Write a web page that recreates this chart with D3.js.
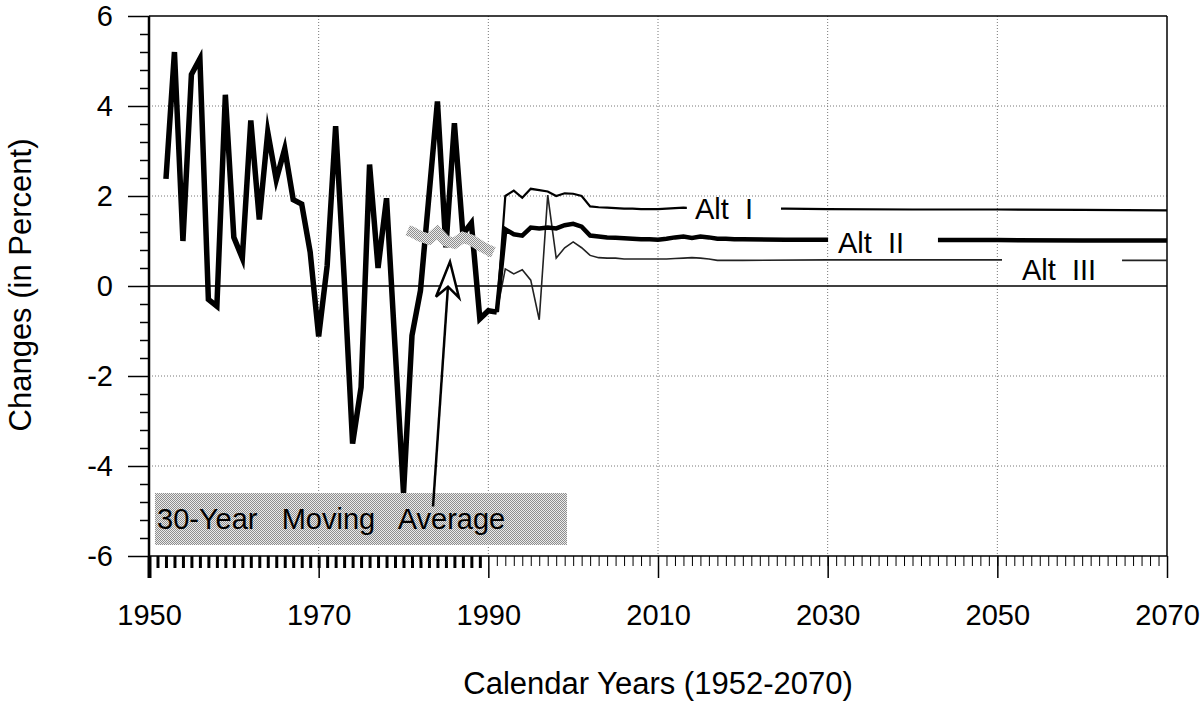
<html>
<head>
<meta charset="utf-8">
<script src="https://d3js.org/d3.v7.min.js"></script>
<style>
body { margin: 0; background: #fff; }
text { font-family: "Liberation Sans", Arial, Helvetica, sans-serif; fill: #000; }
</style>
</head>
<body>
<svg width="1202" height="703"></svg>

<script>
// values: [year, percent change]
var historical = [
  [1952, 2.38], [1953, 5.2], [1954, 1.0], [1955, 4.7], [1956, 5.05], [1957, -0.3],
  [1958, -0.45], [1959, 4.25], [1960, 1.08], [1961, 0.62], [1962, 3.68], [1963, 1.48],
  [1964, 3.42], [1965, 2.36], [1966, 3.05], [1967, 1.92], [1968, 1.82], [1969, 0.75],
  [1970, -1.12], [1971, 0.45], [1972, 3.55], [1973, 0.2], [1974, -3.5], [1975, -2.25],
  [1976, 2.7], [1977, 0.4], [1978, 1.95], [1979, -1.35], [1980, -4.6], [1981, -1.1],
  [1982, -0.1], [1983, 2.0], [1984, 4.1], [1985, 0.86], [1986, 3.62], [1987, 1.15],
  [1988, 1.4], [1989, -0.73], [1990, -0.55], [1991, -0.58]
];

var movingAverage = [
  [1980.5, 1.24], [1981, 1.2], [1982, 1.1], [1983, 1.04], [1984, 1.2], [1985, 1.0],
  [1986, 0.95], [1987, 1.08], [1988, 1.02], [1989, 0.9], [1990, 0.8], [1990.6, 0.75]
];

var altI = [
  [1991, -0.58], [1992, 2.0], [1993, 2.12], [1994, 1.96], [1995, 2.16], [1996, 2.13],
  [1997, 2.1], [1998, 2.0], [1999, 2.06], [2000, 2.05], [2001, 2.0], [2002, 1.77],
  [2003, 1.75], [2004, 1.74], [2005, 1.73], [2006, 1.72], [2007, 1.72], [2008, 1.71],
  [2009, 1.71], [2010, 1.71], [2011, 1.72], [2012, 1.73], [2013, 1.74], [2014, 1.73],
  [2020, 1.72], [2025, 1.72], [2030, 1.71], [2040, 1.7], [2050, 1.7], [2060, 1.69], [2070, 1.68]
];

var altII = [
  [1991, -0.58], [1992, 1.26], [1993, 1.15], [1994, 1.12], [1995, 1.3], [1996, 1.28],
  [1997, 1.3], [1998, 1.28], [1999, 1.35], [2000, 1.38], [2001, 1.32], [2002, 1.12],
  [2003, 1.1], [2004, 1.08], [2005, 1.07], [2006, 1.06], [2007, 1.05], [2008, 1.04],
  [2009, 1.04], [2010, 1.03], [2011, 1.05], [2012, 1.08], [2013, 1.1], [2014, 1.07],
  [2015, 1.1], [2016, 1.08], [2017, 1.05], [2018, 1.05], [2019, 1.04], [2020, 1.04],
  [2025, 1.03], [2030, 1.03], [2040, 1.02], [2050, 1.02], [2060, 1.01], [2070, 1.01]
];

var altIII = [
  [1991, -0.58], [1992, 0.38], [1993, 0.27], [1994, 0.36], [1995, 0.13], [1996, -0.75],
  [1997, 2.02], [1998, 0.62], [1999, 0.85], [2000, 0.98], [2001, 0.85], [2002, 0.68],
  [2003, 0.63], [2004, 0.62], [2005, 0.62], [2006, 0.6], [2007, 0.6], [2008, 0.6],
  [2009, 0.6], [2010, 0.6], [2011, 0.6], [2012, 0.61], [2013, 0.62], [2014, 0.63],
  [2015, 0.62], [2016, 0.6], [2017, 0.57], [2018, 0.57], [2019, 0.57], [2020, 0.57],
  [2030, 0.58], [2040, 0.58], [2050, 0.58], [2060, 0.57], [2070, 0.57]
];

var yTicks = [-6, -4, -2, 0, 2, 4, 6];
var xTicks = [1950, 1970, 1990, 2010, 2030, 2050, 2070];

var svg = d3.select("svg");
var x = d3.scaleLinear().domain([1950, 2070]).range([149, 1167]);
var y = d3.scaleLinear().domain([-6, 6]).range([556, 16]);
var plain = function(d) { return String(d); };   // hyphen minus like the original

// stipple used by the moving-average band and the caption box
var pat = svg.append("defs").append("pattern")
  .attr("id", "stipple").attr("patternUnits", "userSpaceOnUse")
  .attr("width", 2).attr("height", 2);
pat.append("rect").attr("width", 2).attr("height", 2).attr("fill", "#ebebeb");
pat.append("rect").attr("width", 1).attr("height", 1).attr("fill", "#8e8e8e");
pat.append("rect").attr("x", 1).attr("y", 1).attr("width", 1).attr("height", 1).attr("fill", "#8e8e8e");

// gridlines
svg.append("g").selectAll("line").data(yTicks.filter(function(d) { return d != 0 && Math.abs(d) != 6; }))
  .enter().append("line")
  .attr("x1", x(1950)).attr("x2", x(2070))
  .attr("y1", function(d) { return y(d); }).attr("y2", function(d) { return y(d); })
  .attr("stroke", "#777").attr("stroke-dasharray", "1,2");
svg.append("g").selectAll("line").data(xTicks.slice(1, -1))
  .enter().append("line")
  .attr("x1", function(d) { return x(d); }).attr("x2", function(d) { return x(d); })
  .attr("y1", y(6)).attr("y2", y(-6))
  .attr("stroke", "#777").attr("stroke-dasharray", "1,2");

// zero line and frame
svg.append("line").attr("x1", x(1950)).attr("x2", x(2070)).attr("y1", y(0)).attr("y2", y(0))
  .attr("stroke", "#000").attr("stroke-width", 1.5);
svg.append("line").attr("x1", x(1950)).attr("x2", x(2070)).attr("y1", y(6)).attr("y2", y(6))
  .attr("stroke", "#000").attr("stroke-width", 1.5);
svg.append("line").attr("x1", x(2070)).attr("x2", x(2070)).attr("y1", y(6)).attr("y2", y(-6))
  .attr("stroke", "#000").attr("stroke-width", 1.5);

// y axis: labelled ticks plus minor ticks every 0.4
var yaxis = d3.axisLeft(y).tickValues(yTicks).tickSize(21).tickPadding(15).tickFormat(plain);
var gy = svg.append("g").attr("transform", "translate(" + x(1950) + ",0)").call(yaxis);
gy.select(".domain").remove();
gy.selectAll("line").attr("stroke-width", 1.5);
gy.selectAll("text").style("font-size", "29px").style("font-family", "'Liberation Sans', Arial, sans-serif");

var yMinor = d3.range(0, 31).map(function(i) { return -6 + i * 0.4; })
  .filter(function(v) { return Math.abs(v / 2 - Math.round(v / 2)) > 0.01; });
svg.append("g").attr("transform", "translate(" + x(1950) + ",0)")
  .call(d3.axisLeft(y).tickValues(yMinor).tickSize(9).tickFormat(""))
  .call(function(g) { g.select(".domain").remove(); g.selectAll("line").attr("stroke-width", 1.5); });

// x axis: every year, heavy ticks over the historical period
var histYears = d3.range(1951, 1990);
var projYears = d3.range(1991, 2070);
svg.append("g").attr("transform", "translate(0," + y(-6) + ")")
  .call(d3.axisBottom(x).tickValues(histYears).tickSize(12).tickFormat(""))
  .call(function(g) { g.select(".domain").remove(); g.selectAll("line").attr("stroke-width", 3); });
svg.append("g").attr("transform", "translate(0," + y(-6) + ")")
  .call(d3.axisBottom(x).tickValues(projYears).tickSize(10).tickFormat(""))
  .call(function(g) { g.select(".domain").remove(); g.selectAll("line").attr("stroke-width", 1); });
var gx = svg.append("g").attr("transform", "translate(0," + y(-6) + ")")
  .call(d3.axisBottom(x).tickValues(xTicks).tickSize(22).tickPadding(26).tickFormat(plain));
gx.select(".domain").remove();
gx.selectAll("line").attr("stroke-width", 1.5);
gx.select("line").attr("stroke-width", 4);
gx.selectAll("text").style("font-size", "29px").style("font-family", "'Liberation Sans', Arial, sans-serif");

svg.append("line").attr("x1", x(1950)).attr("x2", x(1950)).attr("y1", y(6)).attr("y2", y(-6))
  .attr("stroke", "#000").attr("stroke-width", 2.5);
svg.append("line").attr("x1", x(1950)).attr("x2", x(2070)).attr("y1", y(-6)).attr("y2", y(-6))
  .attr("stroke", "#000").attr("stroke-width", 1.5);

var line = d3.line().x(function(d) { return x(d[0]); }).y(function(d) { return y(d[1]); });

// projections, broken where their labels sit
var alts = [
  { id: "a3", data: altIII, width: 1.6, color: "#222", gap: [2050.55, 2064.7] },
  { id: "a1", data: altI, width: 2.2, color: "#000", gap: [2013.4, 2024.5] },
  { id: "a2", data: altII, width: 4.5, color: "#000", gap: [2030.05, 2043] }
];
alts.forEach(function(a) {
  var cp = svg.select("defs").append("clipPath").attr("id", "clip-" + a.id);
  cp.append("rect").attr("x", 0).attr("y", 0).attr("width", x(a.gap[0])).attr("height", 703);
  cp.append("rect").attr("x", x(a.gap[1])).attr("y", 0).attr("width", 1202 - x(a.gap[1])).attr("height", 703);
  svg.append("path").datum(a.data)
    .attr("d", line)
    .attr("clip-path", "url(#clip-" + a.id + ")")
    .attr("fill", "none").attr("stroke", a.color).attr("stroke-width", a.width)
    .attr("stroke-linejoin", "miter");
});

svg.append("path").datum(historical)
  .attr("d", line)
  .attr("fill", "none").attr("stroke", "#000").attr("stroke-width", 5.5)
  .attr("stroke-linejoin", "miter").attr("stroke-miterlimit", 8);

svg.append("path").datum(movingAverage)
  .attr("d", line)
  .attr("fill", "none").attr("stroke", "url(#stipple)").attr("stroke-width", 11);

// labels for the alternatives
svg.append("text").attr("x", 695).attr("y", 219).style("font-size", "29px").style("white-space", "pre").text("Alt  I");
svg.append("text").attr("x", 838).attr("y", 253).style("font-size", "29px").style("white-space", "pre").text("Alt  II");
svg.append("text").attr("x", 1022).attr("y", 280).style("font-size", "29px").style("white-space", "pre").text("Alt  III");

// caption box with arrow pointing to the moving average
svg.append("rect").attr("x", 155).attr("y", 493).attr("width", 412).attr("height", 52)
  .attr("fill", "url(#stipple)");
svg.append("text").attr("x", 157).attr("y", 529).style("font-size", "29px").style("white-space", "pre")
  .text("30-Year   Moving   Average");

var tip = [x(1985.48), y(0.54)];
svg.append("line").attr("x1", x(1983.48)).attr("y1", y(-4.9)).attr("x2", tip[0] - 2).attr("y2", y(0.0))
  .attr("stroke", "#000").attr("stroke-width", 2.5);
svg.append("path")
  .attr("d", "M" + tip[0] + "," + tip[1] +
    " L" + (tip[0] - 14) + "," + (tip[1] + 35) +
    " L" + (tip[0] - 2) + "," + (tip[1] + 25) +
    " L" + (tip[0] + 9) + "," + (tip[1] + 36) + " Z")
  .attr("fill", "#fff").attr("stroke", "#000").attr("stroke-width", 2.5).attr("stroke-linejoin", "miter");

// axis titles
svg.append("text").attr("transform", "translate(31,285) rotate(-90)")
  .attr("text-anchor", "middle").style("font-size", "31px").text("Changes (in Percent)");
svg.append("text").attr("x", 658).attr("y", 694)
  .attr("text-anchor", "middle").style("font-size", "31px").text("Calendar Years (1952-2070)");
</script>
</body>
</html>
